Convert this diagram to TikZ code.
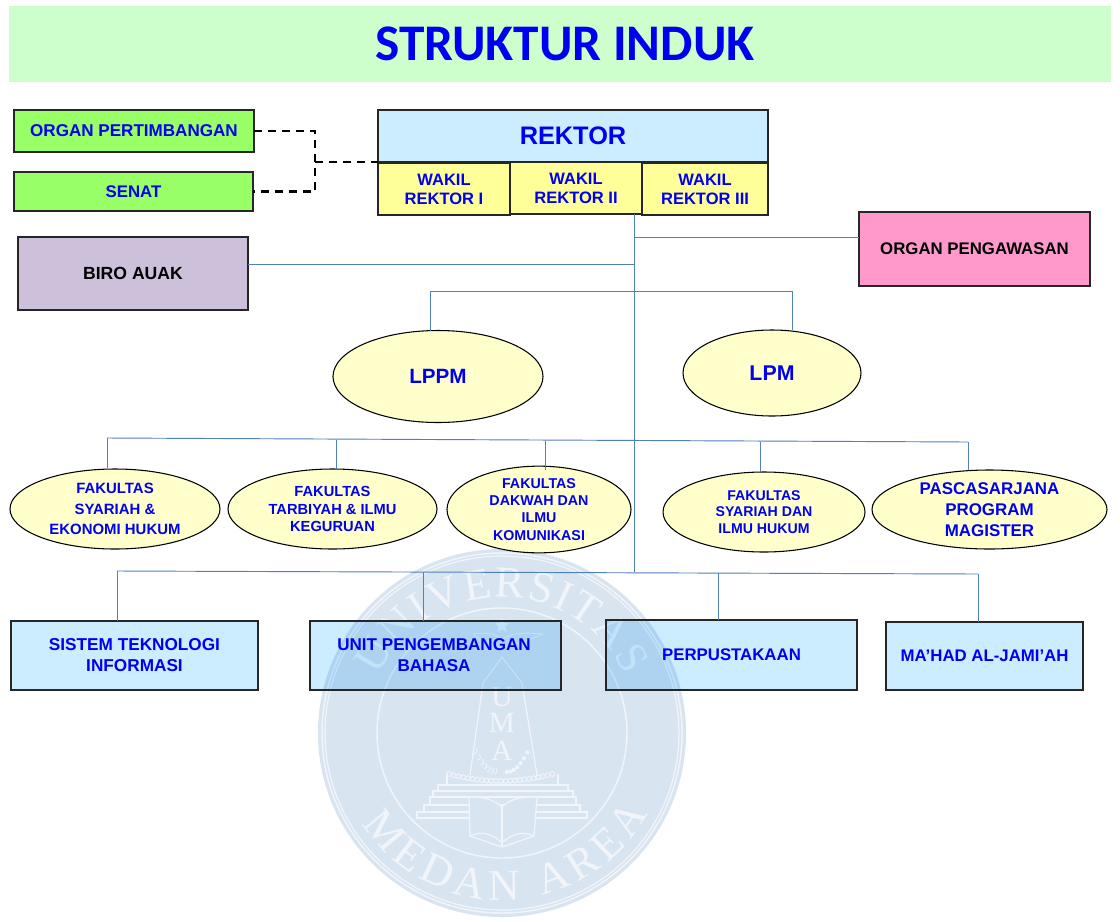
\documentclass[tikz,border=0pt]{standalone}
\usepackage{fontspec}
\setmainfont{Liberation Sans}
\newfontfamily\titlef{Carlito}
\newfontfamily\wmf{Liberation Serif}
\usetikzlibrary{shapes.geometric,decorations.text,calc}
\definecolor{tblue}{HTML}{0000F0}
\definecolor{conn}{HTML}{4F81BD}
\definecolor{wmdisc}{HTML}{D9E4F1}
\definecolor{wmline}{HTML}{F1F5FA}
\definecolor{greenbox}{HTML}{99FF66}
\definecolor{bluebox}{HTML}{CCECFF}
\definecolor{yellowbox}{HTML}{FFFF99}
\definecolor{ellfill}{HTML}{FFFFCC}
\definecolor{titlebox}{HTML}{CCFFCC}
\tikzset{
  sz/.style 2 args={minimum width=#1*0.75pt,minimum height=#2*0.75pt,inner sep=0pt,outer sep=0pt},
  fs/.style={font={\pgfmathsetmacro\lh{#1*1.16}\fontsize{#1}{\lh}\selectfont\bfseries}},
  fsl/.style 2 args={font={\fontsize{#1}{#2}\selectfont\bfseries}},
  boxn/.style={draw=black!85,line width=0.8pt,align=center,text=tblue},
  ell/.style={ellipse,draw=black,line width=0.8pt,fill=ellfill,align=center,text=tblue},
  link/.style={draw=conn,line width=0.7pt},
  dashl/.style={draw=black,line width=1.7pt,dash pattern=on 6pt off 4.5pt},
  wm/.style={draw=wmline,line width=0.9pt},
}
\begin{document}
\begin{tikzpicture}[x=0.75pt,y=-0.75pt]
\useasboundingbox (0,0) rectangle (1120,921);
\fill[white] (0,0) rectangle (1120,921);
% watermark
\fill[wmdisc] (502,733) circle[radius=184];
\draw[wm,line width=1.1pt] (502,733) circle[radius=180];
\draw[wm] (502,733) circle[radius=177];
\draw[wm,line width=1.1pt] (502,733) circle[radius=125];
\begin{scope}[x=0.75pt,y=0.75pt]
\path[decorate,decoration={text along path,text align=fit to path,text color=wmline,
  text={|\wmf\fontsize{33}{33}\selectfont|UNIVERSITAS}}]
  (502,-733) ++(155:136) arc[start angle=155,end angle=25,radius=136];
\path[decorate,decoration={text along path,text align=fit to path,text color=wmline,
  text={|\wmf\fontsize{33}{33}\selectfont|MEDAN AREA}}]
  (502,-733) ++(213:167) arc[start angle=213,end angle=331,radius=167];
\end{scope}
% monument
\draw[wm] (470,775) -- (483,683) -- (502,657) -- (522,683) -- (537,775);
\node[text=wmline,font=\wmf\fontsize{22}{22}\selectfont] (wu) at (502,697) {U};
\node[text=wmline,font=\wmf\fontsize{22}{22}\selectfont] (wm) at (502,723) {M};
\node[text=wmline,font=\wmf\fontsize{22}{22}\selectfont] (wa) at (502,751) {A};
\foreach \i in {0,...,22}{
  \pgfmathsetmacro{\px}{449+\i*4.7}
  \pgfmathsetmacro{\py}{774+7*(1-((\i-11)/11)^2)}
  \draw[wm,line width=0.7pt] (\px,\py) circle[radius=2.4];
}
\foreach \i in {0,...,6}{
  \pgfmathsetmacro{\px}{507+\i*3.4}
  \pgfmathsetmacro{\py}{772-\i*\i*0.55}
  \fill[wmline] (\px,\py) circle[radius=2.1];
  \pgfmathsetmacro{\qx}{497-\i*3.3}
  \pgfmathsetmacro{\qy}{772-\i*\i*0.55}
  \draw[wm,line width=0.7pt] (\qx,\qy) -- ++(-3,2) (\qx,\qy) -- ++(-1,-4);
}
\draw[wm] (447,774) -- (447,785) (558,774) -- (558,785);
\draw[wm] (438,791) -- (438,785) -- (568,785) -- (568,791);
\draw[wm] (433,797) -- (433,791) -- (573,791) -- (573,797);
\draw[wm] (430,805) -- (430,797) -- (576,797) -- (576,805);
\draw[wm] (424,812) -- (424,805) -- (580,805) -- (580,812);
\draw[wm] (417,812) rectangle (587,818);
\fill[wmdisc,draw=wmline,line width=0.9pt] (502,807) .. controls (490,797) and (480,797) .. (469,797)
  -- (470,836) -- (502,847) -- (534,836) -- (537,797) .. controls (525,797) and (512,797) .. (502,807) -- cycle;
\draw[wm] (502,807) -- (502,847);
\draw[wm] (470,836) .. controls (482,830) and (495,835) .. (502,843) .. controls (510,835) and (522,830) .. (534,836);
\fill[wmline] (502,618) -- (504,623) -- (509,623) -- (505,627) -- (507,632) -- (502,629)
  -- (497,632) -- (499,627) -- (495,623) -- (500,623) -- cycle;
\draw[wm,line width=0.6pt] (473,634) .. controls (490,632) and (497,634) .. (502,640)
  .. controls (507,634) and (520,632) .. (543,634) .. controls (525,642) and (512,645) .. (502,648)
  .. controls (492,645) and (483,642) .. (473,634) -- cycle;
% title
\fill[titlebox] (9,6) rectangle (1111,82);
\node[text=tblue,font=\titlef\fontsize{38.5}{44}\selectfont\bfseries] (title) at (565,44) {STRUKTUR INDUK};
% translucent fills of the boxes lying over the watermark
\begin{scope}[blend mode=multiply]
\fill[bluebox] (310,621) rectangle (561,690);
\fill[bluebox] (606,620) rectangle (857,690);
\end{scope}
% nodes
\node[boxn,sz={240}{42},fill=greenbox,fs=12.8] (organ) at (134,131) {ORGAN PERTIMBANGAN};
\node[boxn,sz={239}{39},fill=greenbox,fs=12.6] (senat) at (133.5,191.5) {SENAT};
\node[boxn,sz={390}{52},fill=bluebox,fs=19] (rektor) at (573,136) {REKTOR};
\node[boxn,sz={132}{52},fill=yellowbox,fs=12.4] (wr1) at (444,189) {WAKIL\\REKTOR I};
\node[boxn,sz={132}{52},fill=yellowbox,fs=12.4] (wr2) at (576,188) {WAKIL\\REKTOR II};
\node[boxn,sz={126}{52},fill=yellowbox,fs=12.4] (wr3) at (705,189) {WAKIL\\REKTOR III};
\node[boxn,sz={230}{73},fill={rgb,255:red,204;green,192;blue,218},text=black,fs=13.2] (biro) at (133,273.5) {BIRO AUAK};
\node[boxn,sz={231}{74},fill={rgb,255:red,255;green,153;blue,204},text=black,fs=12.6] (pengawas) at (974.5,249) {ORGAN PENGAWASAN};
\node[ell,sz={210}{92},fs=15.5] (lppm) at (438,376.5) {LPPM};
\node[ell,sz={178}{86},fs=16] (lpm) at (772,373) {LPM};
\node[ell,sz={210}{80},fsl={11.2}{15.4}] (f1) at (115,509) {FAKULTAS\\SYARIAH \&\\EKONOMI HUKUM};
\node[ell,sz={209}{80},fsl={11}{13}] (f2) at (332.5,509) {FAKULTAS\\TARBIYAH \& ILMU\\KEGURUAN};
\node[ell,sz={184}{79},fsl={10.7}{12.8}] (f3) at (539,509.5) {FAKULTAS\\DAKWAH DAN\\ILMU\\KOMUNIKASI};
\node[ell,sz={202}{80},fs=10.6] (f4) at (764,512) {FAKULTAS\\SYARIAH DAN\\ILMU HUKUM};
\node[ell,sz={235}{79},fsl={12.7}{15.5}] (f5) at (989.5,509.5) {PASCASARJANA\\PROGRAM\\MAGISTER};
\node[boxn,sz={247}{69},fill=bluebox,fsl={12.9}{15.7}] (u1) at (134.5,655.5) {SISTEM TEKNOLOGI\\INFORMASI};
\node[boxn,sz={251}{69},fsl={12.8}{15.7}] (u2) at (435.5,655.5) {\hspace*{-2.2pt}UNIT PENGEMBANGAN\\\hspace*{-2.2pt}BAHASA};
\node[boxn,sz={251}{70},fs=12.6] (u3) at (731.5,655) {PERPUSTAKAAN};
\node[boxn,sz={197}{68},fill=bluebox,fs=12.6] (u4) at (984.5,656) {MA’HAD AL-JAMI’AH};
% free ends
\coordinate (tr) at (634,572);
\coordinate (dj) at (315,162);
\coordinate (busA) at (430,291);
\coordinate (busB) at (792,291);
\coordinate (busL) at (107,438);
\coordinate (busR) at (968,442);
\coordinate (lowL) at (117,571);
\coordinate (lowR) at (978,574);
% connectors
\draw[link] (wr2.south -| tr) -- (tr);
\draw[link] (tr |- 0,237) -- (pengawas.west |- 0,237);
\draw[link] (biro.east |- 0,264) -- (tr |- 0,264);
\draw[link] (busA) -- (busB);
\draw[link] (busA) -- (busA |- lppm.north);
\draw[link] (busB) -- (busB |- lpm.north);
\draw[link] (busL) -- (busR);
\draw[link] (busL) -- (107,468);
\draw[link] (336,440) -- (336,469);
\draw[link] (545,440.5) -- (545,470);
\draw[link] (760,442) -- (760,472);
\draw[link] (busR) -- (968,470);
\draw[link] (lowL) -- (lowR);
\draw[link] (lowL) -- (lowL |- u1.north);
\draw[link] (423,572) -- (423,621);
\draw[link] (718,573) -- (718,620);
\draw[link] (lowR) -- (lowR |- u4.north);
\draw[dashl] (organ.east) -- (dj |- organ.east) -- (dj |- senat.east) -- (senat.east);
\draw[dashl,line width=2.2pt] (dj) -- (rektor.south west);
\end{tikzpicture}
\end{document}
